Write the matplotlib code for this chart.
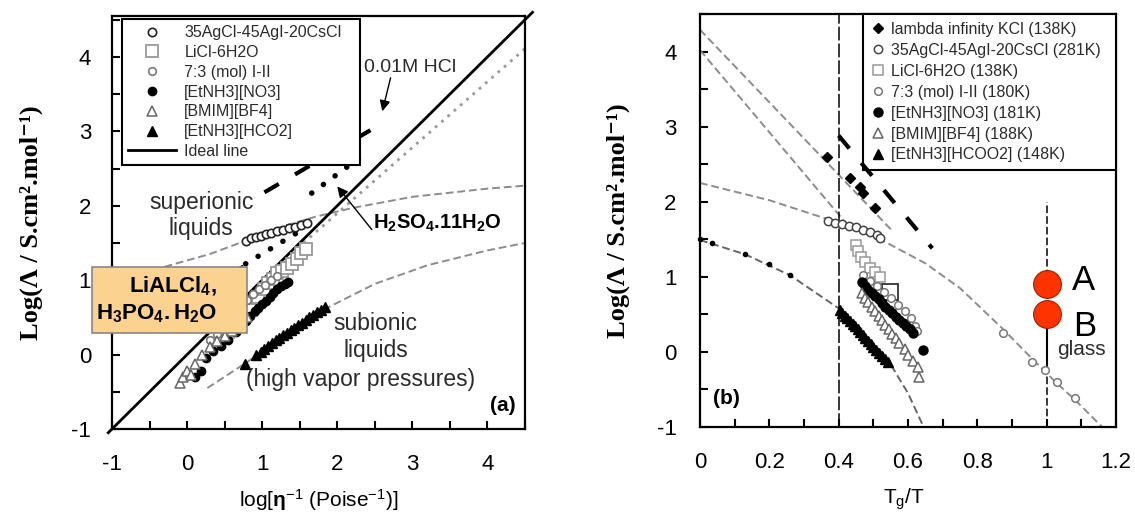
import numpy as np
import matplotlib
matplotlib.use('Agg')
import matplotlib.pyplot as plt
from matplotlib.patches import Rectangle
from matplotlib.ticker import MultipleLocator, FuncFormatter

plt.rcParams['font.family'] = ['Liberation Sans', 'DejaVu Sans']
plt.rcParams['mathtext.fontset'] = 'custom'
plt.rcParams['mathtext.rm'] = 'Liberation Sans'
plt.rcParams['mathtext.it'] = 'Liberation Sans:italic'
plt.rcParams['mathtext.bf'] = 'Liberation Sans:bold'
plt.rcParams['axes.unicode_minus'] = False

# ---------------- panel (a) data ----------------
ag_x = [0.78, 0.85, 0.92, 0.98, 1.05, 1.12, 1.2, 1.28, 1.36, 1.44, 1.52, 1.6]
ag_y = [1.53, 1.56, 1.58, 1.6, 1.62, 1.64, 1.66, 1.68, 1.7, 1.72, 1.74, 1.77]
licl_x = [0.55, 0.65, 0.75, 0.85, 0.95, 1.02, 1.08, 1.14, 1.2, 1.27, 1.33, 1.4, 1.46, 1.52, 1.58]
licl_y = [0.3, 0.4, 0.5, 0.6, 0.78, 0.88, 0.96, 1.02, 1.09, 1.12, 1.16, 1.22, 1.28, 1.36, 1.42]
iii_x = [0.3, 0.4, 0.48, 0.56, 0.64, 0.72, 0.8, 0.88, 0.96, 1.04, 1.12, 1.2]
iii_y = [0.2, 0.28, 0.38, 0.48, 0.58, 0.68, 0.74, 0.82, 0.88, 0.94, 1.0, 1.05]
no3_x = [0.1, 0.18, 0.25, 0.35, 0.45, 0.55, 0.65, 0.72, 0.78, 0.84, 0.9, 0.95,
         1.0, 1.05, 1.1, 1.15, 1.2, 1.25, 1.3, 1.35]
no3_y = [-0.3, -0.22, -0.05, 0.05, 0.12, 0.2, 0.3, 0.38, 0.45, 0.52, 0.58, 0.63,
         0.68, 0.72, 0.78, 0.83, 0.88, 0.92, 0.95, 0.98]
bmim_x = [-0.1, -0.05, 0.0, 0.05, 0.1, 0.2, 0.3, 0.4, 0.5, 0.6, 0.7, 0.8]
bmim_y = [-0.38, -0.3, -0.22, -0.28, -0.12, 0.0, 0.1, 0.18, 0.25, 0.32, 0.42, 0.5]
hco2_x = [0.77, 0.92, 0.98, 1.03, 1.08, 1.13, 1.18, 1.23, 1.28, 1.33, 1.38, 1.43,
          1.48, 1.53, 1.58, 1.63, 1.68, 1.73, 1.78, 1.84]
hco2_y = [-0.12, 0.0, 0.04, 0.08, 0.12, 0.15, 0.19, 0.22, 0.26, 0.29, 0.33, 0.36,
          0.4, 0.43, 0.46, 0.5, 0.53, 0.57, 0.6, 0.64]

ideal_x = [-1.05, 4.6]
ideal_y = [-1.05, 4.6]
super_x = [-0.3, 0.3, 0.7, 1.2, 1.7, 2.2, 3.0, 4.0, 4.5]
super_y = [1.18, 1.35, 1.5, 1.7, 1.85, 1.97, 2.12, 2.23, 2.27]
sub_x = [0.27, 0.8, 1.3, 1.85, 2.5, 3.2, 4.0, 4.5]
sub_y = [-0.45, -0.1, 0.25, 0.62, 0.95, 1.2, 1.4, 1.5]
gdot_x = [1.55, 4.5]
gdot_y = [1.5, 4.11]
hcl_x = [1.03, 2.5]
hcl_y = [2.18, 3.05]
lialcl_x = [0.78, 1.6]
lialcl_y = [1.22, 1.72]
h2so4_x = [1.66, 2.37]
h2so4_y = [2.17, 2.7]

# ---------------- panel (b) data ----------------
kcl_bx = [0.365, 0.433, 0.461, 0.47, 0.505]
kcl_by = [2.6, 2.32, 2.19, 2.12, 1.91]
ag_bx = [0.37, 0.39, 0.41, 0.43, 0.45, 0.47, 0.49, 0.51, 0.52]
ag_by = [1.74, 1.72, 1.7, 1.68, 1.66, 1.63, 1.6, 1.56, 1.52]
licl_bx = [0.45, 0.455, 0.465, 0.475, 0.49, 0.505, 0.52]
licl_by = [1.42, 1.34, 1.26, 1.2, 1.12, 1.06, 1.0]
licl_big_x = [0.548]
licl_big_y = [0.8]
iii_bx = [0.47, 0.49, 0.51, 0.53, 0.55, 0.57, 0.59, 0.61, 0.62, 0.625,
          0.875, 0.957, 0.995, 1.029, 1.082]
iii_by = [1.02, 0.95, 0.88, 0.8, 0.72, 0.63, 0.55, 0.45, 0.35, 0.28,
          0.25, -0.13, -0.24, -0.4, -0.62]
no3_bx = [0.466, 0.475, 0.485, 0.495, 0.505, 0.515, 0.525, 0.535, 0.545, 0.555,
          0.565, 0.575, 0.585, 0.595, 0.605, 0.615, 0.644]
no3_by = [0.93, 0.88, 0.83, 0.78, 0.74, 0.7, 0.65, 0.6, 0.56, 0.52,
          0.47, 0.43, 0.39, 0.34, 0.3, 0.25, 0.02]
bmim_bx = [0.466, 0.475, 0.485, 0.495, 0.505, 0.515, 0.525, 0.535, 0.545, 0.555,
           0.565, 0.575, 0.59, 0.6, 0.615, 0.63, 0.632]
bmim_by = [0.78, 0.72, 0.66, 0.6, 0.54, 0.48, 0.42, 0.36, 0.3, 0.24,
           0.18, 0.12, 0.04, -0.04, -0.12, -0.2, -0.33]
hco2_bx = [0.404, 0.41, 0.418, 0.425, 0.432, 0.44, 0.447, 0.455, 0.462, 0.47,
           0.477, 0.485, 0.492, 0.5, 0.508, 0.516, 0.525, 0.534, 0.543]
hco2_by = [0.56, 0.52, 0.48, 0.45, 0.41, 0.37, 0.34, 0.3, 0.26, 0.22,
           0.19, 0.15, 0.11, 0.07, 0.03, -0.01, -0.05, -0.09, -0.13]
hco2_hi_x = [0.0, 0.035, 0.13, 0.2, 0.26]
hco2_hi_y = [1.5, 1.45, 1.3, 1.17, 1.02]

fit1_x = [0.0, 0.553]
fit1_y = [4.29, 1.62]
fit2_x = [0.0, 0.42]
fit2_y = [4.02, 1.72]
fit3_x = [0.0, 0.2, 0.4, 0.52, 0.65, 0.75, 0.875, 0.96, 1.03, 1.08, 1.16]
fit3_y = [2.25, 2.02, 1.72, 1.5, 1.18, 0.85, 0.3, -0.1, -0.42, -0.63, -1.0]
fit4_x = [0.0, 0.13, 0.26, 0.4, 0.47, 0.548, 0.6, 0.645]
fit4_y = [1.49, 1.3, 1.02, 0.58, 0.25, -0.15, -0.55, -1.0]
hclb_x = [0.4, 0.67]
hclb_y = [2.88, 1.38]
glass_x = [1.0, 1.0]
glass_y = [0.9, 0.51]

gray = '#8c8c8c'
txt = '#2b2b2b'

fig = plt.figure(figsize=(11.35, 5.13), dpi=100)
ax1 = fig.add_axes([112 / 1135, 1 - 429 / 513, 413 / 1135, 413 / 513])
ax2 = fig.add_axes([700 / 1135, 1 - 427 / 513, 416 / 1135, 413 / 513])


def style(ax, xmaj, xmin, ypad):
    for s in ax.spines.values():
        s.set_linewidth(1.6)
    ax.xaxis.set_major_locator(MultipleLocator(xmaj))
    ax.xaxis.set_minor_locator(MultipleLocator(xmin))
    ax.yaxis.set_major_locator(MultipleLocator(1))
    ax.yaxis.set_minor_locator(MultipleLocator(0.5))
    ax.xaxis.set_major_formatter(FuncFormatter(lambda v, p: f'{v:g}'))
    ax.tick_params(which='both', direction='in', length=6, width=1.5,
                   top=False, right=False)
    ax.tick_params(axis='x', which='major', labelsize=16, pad=18)
    ax.tick_params(axis='y', which='major', labelsize=16, pad=ypad)


# ---------------- panel (a) ----------------
ax = ax1
ax.plot(super_x, super_y, color=gray, lw=1.4, ls=(0, (4, 2)))
ax.plot(sub_x, sub_y, color=gray, lw=1.4, ls=(0, (4, 2)))
ax.plot(gdot_x, gdot_y, color='#9a9a9a', lw=2, ls=(0, (1, 2)))
ln_ideal, = ax.plot(ideal_x, ideal_y, color='k', lw=2, clip_on=False, label='Ideal line')
ax.plot(hcl_x, hcl_y, color='k', lw=3, ls=(0, (4, 4.5)))
ax.plot(lialcl_x, lialcl_y, color='k', lw=4, ls=(0, (0.01, 2.6)), dash_capstyle='round')
ax.plot(h2so4_x, h2so4_y, color='k', lw=4, ls=(0, (0.01, 2.6)), dash_capstyle='round')

h1, = ax.plot(ag_x, ag_y, 'o', ms=6, mfc='white', mec='#222', mew=1.2, label='35AgCl-45AgI-20CsCl')
h2, = ax.plot(licl_x, licl_y, 's', ms=8, mfc='white', mec='#999', mew=1.3, label='LiCl-6H2O')
h3, = ax.plot(iii_x, iii_y, 'o', ms=5.5, mfc='white', mec='#777', mew=1.2, label='7:3 (mol) I-II')
h4, = ax.plot(no3_x, no3_y, 'o', ms=6, mfc='k', mec='k', label='[EtNH3][NO3]')
h5, = ax.plot(bmim_x, bmim_y, '^', ms=6.5, mfc='white', mec='#666', mew=1.1, label='[BMIM][BF4]')
h6, = ax.plot(hco2_x, hco2_y, '^', ms=6.5, mfc='k', mec='k', label='[EtNH3][HCO2]')

ax.set_xlim(-1, 4.5)
ax.set_ylim(-1, 4.55)
style(ax, 1, 0.5, 15)

leg = ax.legend(handles=[h1, h2, h3, h4, h5, h6, ln_ideal], loc='upper left',
                bbox_to_anchor=(10 / 413, 0.627, 238 / 413, 0.366), mode='expand',
                borderaxespad=0, fontsize=11.5, labelspacing=0.3, borderpad=0.4,
                handlelength=3.0, handletextpad=0.5, numpoints=1,
                fancybox=False, framealpha=1, edgecolor='k', labelcolor=txt)
leg.get_frame().set_linewidth(1.5)

ax.text(0.19, 1.87, 'superionic\nliquids', fontsize=16.5, color=txt,
        ha='center', va='center', linespacing=1.2)
ax.text(2.51, 0.24, 'subionic\nliquids', fontsize=16.5, color=txt,
        ha='center', va='center', linespacing=1.2)
ax.text(2.31, -0.34, '(high vapor pressures)', fontsize=16.5, color=txt,
        ha='center', va='center')
ax.text(4.2, -0.68, '(a)', fontsize=15, fontweight='bold', ha='center', va='center')
ax.text(2.35, 3.86, '0.01M HCl', fontsize=14, color=txt, ha='left', va='center')
ax.text(2.48, 1.77, r'$\mathbf{H_2SO_4.11H_2O}$', fontsize=14.5, ha='left', va='center')

arrow = dict(arrowstyle='-|>', color='k', lw=1, mutation_scale=16, shrinkA=0, shrinkB=0)
ax.annotate('', xy=(2.6, 3.27), xytext=(2.71, 3.72), arrowprops=arrow)
ax.annotate('', xy=(2.0, 2.26), xytext=(2.46, 1.68), arrowprops=arrow)
ax.annotate('', xy=(0.75, 1.21), xytext=(0.41, 0.76), arrowprops=arrow)

ax.add_patch(Rectangle((-1.27, 0.29), 2.07, 0.89, facecolor='#FCD291',
                       edgecolor='#888', lw=1.2, clip_on=False, zorder=4))
ax.text(0.4, 0.735, r'$\mathbf{LiALCl_4,}$' + '\n' + r'$\mathbf{H_3PO_4.H_2O}$',
        fontsize=16, ha='right', va='center', multialignment='right',
        linespacing=1.3, zorder=5)

ax.set_ylabel('Log(Λ / S.cm².mol⁻¹)', family=['Liberation Serif', 'DejaVu Serif'],
              fontsize=19, fontweight='bold')
ax.yaxis.set_label_coords(-0.167, 0.5)
ax.set_xlabel(r'log[$\mathbf{\eta}^{-1}$ (Poise$^{-1}$)]', fontsize=15)
ax.xaxis.set_label_coords(0.5, -0.14)

# ---------------- panel (b) ----------------
ax = ax2
ax.plot(fit1_x, fit1_y, color=gray, lw=1.4, ls=(0, (4, 2)))
ax.plot(fit2_x, fit2_y, color=gray, lw=1.4, ls=(0, (4, 2)))
ax.plot(fit3_x, fit3_y, color=gray, lw=1.4, ls=(0, (4, 2)))
ax.plot(fit4_x, fit4_y, color='#666', lw=1.4, ls=(0, (4, 2)))
ax.axvline(0.4, color='k', lw=1.1, ls=(0, (9, 2)))
ax.plot([1.0, 1.0], [-1.0, 2.0], color='k', lw=1.1, ls=(0, (5, 2)))
ax.plot([1.0, 1.0], [-0.2, 0.5], color='k', lw=1.5)
ax.plot(hclb_x, hclb_y, color='k', lw=3, ls=(0, (4, 4.5)), zorder=7)

g1, = ax.plot(kcl_bx, kcl_by, 'D', ms=5.5, mfc='k', mec='k', label='lambda infinity KCl (138K)')
g2, = ax.plot(ag_bx, ag_by, 'o', ms=6, mfc='white', mec='#444', mew=1.1, label='35AgCl-45AgI-20CsCl (281K)')
g3, = ax.plot(licl_bx, licl_by, 's', ms=7, mfc='white', mec='#999', mew=1.1, label='LiCl-6H2O (138K)')
ax.plot(licl_big_x, licl_big_y, 's', ms=11, mfc='none', mec='#333', mew=1.3)
g4, = ax.plot(iii_bx, iii_by, 'o', ms=5.5, mfc='white', mec='#777', mew=1.1, label='7:3 (mol) I-II (180K)')
g5, = ax.plot(no3_bx, no3_by, 'o', ms=6.5, mfc='k', mec='k', label='[EtNH3][NO3] (181K)')
g6, = ax.plot(bmim_bx, bmim_by, '^', ms=6.5, mfc='white', mec='#666', mew=1.1, label='[BMIM][BF4] (188K)')
g7, = ax.plot(hco2_bx, hco2_by, '^', ms=6.5, mfc='k', mec='k', label='[EtNH3][HCOO2] (148K)')
ax.plot(hco2_hi_x, hco2_hi_y, 'o', ms=3, mfc='k', mec='k', clip_on=False)
ax.plot(glass_x, glass_y, 'o', ms=20, mfc='#FF3300', mec='#9a2000', mew=0.8, zorder=6)

ax.set_xlim(0, 1.2)
ax.set_ylim(-1, 4.5)
style(ax, 0.2, 0.1, 17)

leg = ax.legend(handles=[g1, g2, g3, g4, g5, g6, g7], loc='upper left',
                bbox_to_anchor=(0.393, 0.602, 0.607, 0.398), mode='expand',
                borderaxespad=0, fontsize=11.5, labelspacing=0.37, borderpad=0.5,
                handlelength=0.8, handletextpad=0.4, numpoints=1,
                fancybox=False, framealpha=1, edgecolor='k', labelcolor=txt)
leg.get_frame().set_linewidth(1.5)

ax.text(1.072, 0.82, 'A', fontsize=25, ha='left', va='baseline')
ax.text(1.075, 0.21, 'B', fontsize=25, ha='left', va='baseline')
ax.text(1.029, -0.04, 'glass', fontsize=15, color=txt, ha='left', va='baseline')
ax.text(0.077, -0.62, '(b)', fontsize=15, fontweight='bold', ha='center', va='center')

ax.set_ylabel('Log(Λ / S.cm².mol⁻¹)', family=['Liberation Serif', 'DejaVu Serif'],
              fontsize=19, fontweight='bold')
ax.yaxis.set_label_coords(-0.168, 0.5)
ax.set_xlabel(r'T$_{\mathrm{g}}$/T', fontsize=15)
ax.xaxis.set_label_coords(0.49, -0.145)

fig.savefig('out.png', dpi=100, facecolor='white')
